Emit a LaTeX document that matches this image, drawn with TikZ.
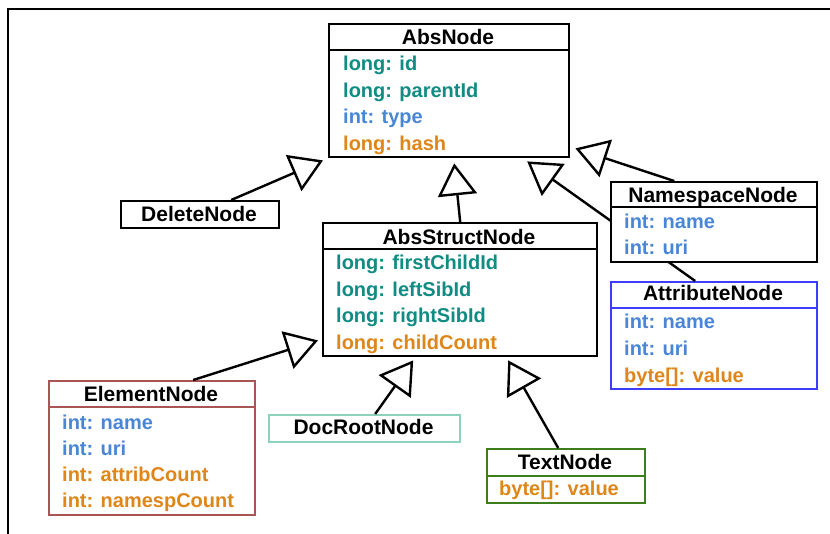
\documentclass[tikz,border=0pt]{standalone}
\usepackage{fontspec}
\setmainfont{Liberation Sans}
\usetikzlibrary{arrows.meta}
\definecolor{cteal}{RGB}{16,140,130}
\definecolor{cblue}{RGB}{74,134,214}
\definecolor{corange}{RGB}{222,134,26}
\definecolor{celem}{RGB}{170,85,85}
\definecolor{cdoc}{RGB}{140,210,188}
\definecolor{cattr}{RGB}{60,60,250}
\definecolor{ctext}{RGB}{60,125,30}
\begin{document}
\begin{tikzpicture}[x=1pt,y=-1pt,
  box/.style={draw, line width=2.4pt, fill=white, inner sep=0pt, anchor=north west},
  ttl/.style={font=\fontsize{21}{21}\selectfont\bfseries, inner sep=0pt, anchor=base},
  attr/.style={font=\fontsize{20}{20}\selectfont\bfseries, inner sep=0pt, anchor=base west},
  inherit/.style={line width=2.4pt, -{Triangle[open, length=32pt, width=39pt]}},
  sep/.style={line width=2.4pt},
]
\useasboundingbox (0,0) rectangle (830,534);
% frame
\draw[line width=2pt] (8,534) -- (8,9) -- (830,9);

% AbsNode
\node[box, minimum width=240pt, minimum height=133pt] (absnode) at (328,23) {};
\draw[sep] ([yshift=-27pt]absnode.north west) -- ([yshift=-27pt]absnode.north east);
\node[ttl] (absnode-t) at (448,44.5) {AbsNode};
\node[attr, text=cteal] (absnode-a1) at (343,71) {long: id};
\node[attr, text=cteal] (absnode-a2) at (343,97.5) {long: parentId};
\node[attr, text=cblue] (absnode-a3) at (343,124) {int: type};
\node[attr, text=corange] (absnode-a4) at (343,150.5) {long: hash};

% DeleteNode
\node[box, minimum width=158pt, minimum height=27pt] (delete) at (120,200) {};
\node[ttl] (delete-t) at (199,221.7) {DeleteNode};

% AbsStructNode
\node[box, minimum width=274pt, minimum height=133pt] (absstruct) at (322,222) {};
\draw[sep] ([yshift=-27pt]absstruct.north west) -- ([yshift=-27pt]absstruct.north east);
\node[ttl] (absstruct-t) at (459,244.3) {AbsStructNode};
\node[attr, text=cteal] (absstruct-a1) at (336,270) {long: firstChildId};
\node[attr, text=cteal] (absstruct-a2) at (336,296.5) {long: leftSibId};
\node[attr, text=cteal] (absstruct-a3) at (336,323) {long: rightSibId};
\node[attr, text=corange] (absstruct-a4) at (336,349.5) {long: childCount};

% AttributeNode
\node[box, draw=cattr, minimum width=206pt, minimum height=107pt] (attribute) at (610,281) {};
\draw[sep, cattr] ([yshift=-27pt]attribute.north west) -- ([yshift=-27pt]attribute.north east);
\node[ttl] (attribute-t) at (713,300.7) {AttributeNode};
\node[attr, text=cblue] (attribute-a1) at (624,329) {int: name};
\node[attr, text=cblue] (attribute-a2) at (624,356) {int: uri};
\node[attr, text=corange] (attribute-a3) at (624,382.5) {byte[]: value};

% connector AttributeNode -> AbsNode (passes behind NamespaceNode)
\coordinate (tipAttr) at ([shift={(78,3)}]absnode.south);
\draw[inherit] ([xshift=-19pt]attribute.north) -- (tipAttr);

% NamespaceNode
\node[box, minimum width=206pt, minimum height=80pt] (namespace) at (610,181) {};
\draw[sep] ([yshift=-26pt]namespace.north west) -- ([yshift=-26pt]namespace.north east);
\node[ttl] (namespace-t) at (713,202.7) {NamespaceNode};
\node[attr, text=cblue] (namespace-a1) at (624,228.3) {int: name};
\node[attr, text=cblue] (namespace-a2) at (624,254.3) {int: uri};

% ElementNode
\node[box, draw=celem, minimum width=206pt, minimum height=134pt] (element) at (48,380) {};
\draw[sep, celem] ([yshift=-27pt]element.north west) -- ([yshift=-27pt]element.north east);
\node[ttl] (element-t) at (151,401.7) {ElementNode};
\node[attr, text=cblue] (element-a1) at (62,429) {int: name};
\node[attr, text=cblue] (element-a2) at (62,455) {int: uri};
\node[attr, text=corange] (element-a3) at (62,481.7) {int: attribCount};
\node[attr, text=corange] (element-a4) at (62,507.7) {int: namespCount};

% DocRootNode
\node[box, draw=cdoc, minimum width=191pt, minimum height=27pt] (docroot) at (268,414) {};
\node[ttl] (docroot-t) at (363.5,435) {DocRootNode};

% TextNode
\node[box, draw=ctext, minimum width=158pt, minimum height=54pt] (textnode) at (486,448) {};
\draw[sep, ctext] ([yshift=-28pt]textnode.north west) -- ([yshift=-28pt]textnode.north east);
\node[ttl] (textnode-t) at (565,469) {TextNode};
\node[attr, text=corange] (textnode-a1) at (499,495.7) {byte[]: value};

% connectors
\coordinate (tipDel) at ([shift={(-5,2)}]absnode.south west);
\coordinate (tipStruct) at ([shift={(5,5)}]absnode.south);
\coordinate (tipNs) at ([shift={(5,-10)}]absnode.south east);
\coordinate (tipElem) at ([shift={(-4,-17)}]absstruct.south west);
\coordinate (tipDoc) at ([shift={(-47,3)}]absstruct.south);
\coordinate (tipText) at ([shift={(48,3)}]absstruct.south);

\draw[inherit] ([xshift=31pt]delete.north) -- (tipDel);
\draw[inherit] (absstruct.north) -- (tipStruct);
\draw[inherit] ([xshift=-40pt]namespace.north) -- (tipNs);
\draw[inherit] ([xshift=41pt]element.north) -- (tipElem);
\draw[inherit] ([xshift=10.5pt]docroot.north) -- (tipDoc);
\draw[inherit] ([xshift=-8pt]textnode.north) -- (tipText);
\end{tikzpicture}
\end{document}
